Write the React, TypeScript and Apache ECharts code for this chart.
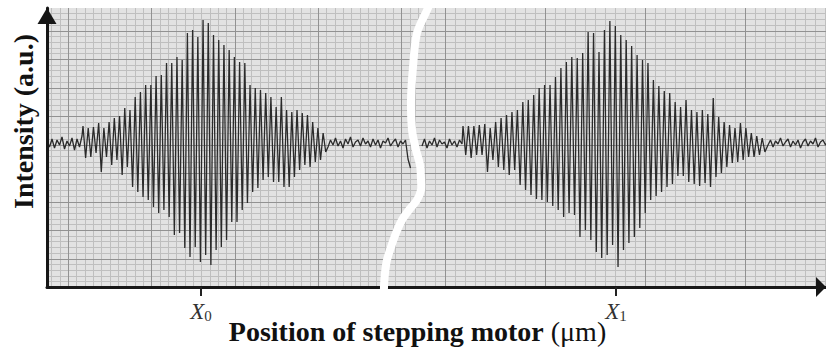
import React, { useEffect, useRef } from "react";
import * as echarts from "echarts";

// ---- Axis / tick data ----
const xMin = 0;
const xMax = 779;
const yMin = 0;
const yMax = 279;
const tickPositions = [154, 569];
const tickLabelBase = ["X", "X"];
const tickLabelSub = ["0", "1"];
const xAxisTitle = "Position of stepping motor";
const xAxisUnit = "(μm)";
const yAxisTitle = "Intensity (a.u.)";

// ---- Signal data (intensity, a.u.) ----
// left interferogram: noise before, fringe peaks / troughs, noise after
const leftPreNoise = [146, 140, 148, 139, 147, 142, 150, 138, 146, 141, 149, 137, 148, 140, 151];
const leftTop = [161, 159, 160, 164, 159, 165, 169, 171, 179, 177, 190, 195, 202, 202, 211, 212, 224, 224, 230, 227, 254, 257, 250, 267, 264, 252, 247, 242, 237, 230, 225, 224, 202, 199, 197, 194, 190, 180, 190, 177, 175, 177, 174, 172, 165, 159, 154];
const leftBottom = [129, 130, 134, 115, 130, 122, 127, 112, 120, 100, 95, 90, 87, 80, 74, 77, 70, 52, 54, 39, 30, 40, 25, 32, 22, 37, 40, 47, 65, 65, 77, 84, 95, 99, 107, 110, 105, 105, 100, 100, 110, 117, 122, 120, 125, 127, 135];
const leftPostNoise = [140, 147, 142, 149, 141, 146, 139, 148, 143, 150, 140, 145, 147, 141, 149, 143, 146, 140, 148, 142, 147, 139, 146, 144, 149, 141, 145, 148, 140, 146, 143, 147, 128, 119];
// right interferogram
const rightPreNoise = [141, 148, 139, 146, 142, 149, 140, 147, 143, 145, 139, 148, 142, 146, 140, 147, 143];
const rightTop = [161, 161, 161, 162, 163, 159, 165, 169, 172, 175, 177, 185, 187, 192, 199, 202, 202, 210, 219, 225, 230, 229, 234, 255, 254, 235, 257, 266, 261, 252, 247, 241, 232, 227, 224, 207, 201, 196, 194, 185, 180, 187, 177, 175, 177, 173, 189, 170, 165, 162, 159, 164, 159, 154, 151, 149];
const rightBottom = [132, 129, 132, 132, 115, 127, 120, 117, 112, 117, 102, 97, 92, 88, 87, 85, 81, 77, 70, 74, 72, 50, 57, 47, 35, 29, 32, 42, 20, 37, 44, 50, 59, 74, 87, 91, 95, 100, 103, 111, 111, 105, 103, 101, 104, 100, 110, 114, 120, 124, 125, 127, 130, 130, 132, 135];
const rightPostNoise = [142, 147, 140, 146, 143, 149, 141, 145, 148, 140, 146, 142, 147, 139, 145, 148, 141, 146, 143, 149, 140, 145, 147, 142, 146];

// stepping-motor sample positions
const noiseStep = 2.5;
const leftPreStart = 0;
const leftPacketStart = 36;
const leftFringeStep = 5.22;
const leftPostStart = 281;
const rightPreStart = 375;
const rightPacketStart = 416;
const rightFringeStep = 5.44;
const rightPostStart = 721;

// axis break (white S-curve), in axis units
const breakCurve = [
  [383, 285], [381, 279], [370, 254], [366, 220], [364, 187], [365, 157], [369, 137],
  [373, 122], [374, 107], [374, 97], [370, 87], [362, 77], [355, 67], [349, 54],
  [344, 40], [340, 27], [338, 14], [337, 0], [337, -6],
];

// graph-paper spacing (axis units)
const hMajor = 28.5;
const hMinorPerMajor = 5;
const leftVOrigin = 21;
const leftVMajor = 83.33;
const rightVOrigin = 398;
const rightVMajor = 100;
const vMinorPerMajor = 10;

const FONT = "'Liberation Serif', 'Times New Roman', serif";

function noise(start: number, vals: number[]) {
  return vals.map((v, i) => [start + i * noiseStep, v]);
}
function packet(start: number, step: number, tops: number[], bottoms: number[]) {
  const out: number[][] = [];
  tops.forEach((t, i) => {
    out.push([start + i * step, t]);
    out.push([start + i * step + step / 2, bottoms[i]]);
  });
  return out;
}

const leftData = [
  ...noise(leftPreStart, leftPreNoise),
  ...packet(leftPacketStart, leftFringeStep, leftTop, leftBottom),
  ...noise(leftPostStart, leftPostNoise),
];
const rightData = [
  ...noise(rightPreStart, rightPreNoise),
  ...packet(rightPacketStart, rightFringeStep, rightTop, rightBottom),
  ...noise(rightPostStart, rightPostNoise),
];

const BG = "#e2e2e2";
const MINOR = "#bfbfbf";
const MAJOR = "#929292";

function gridRender(params: any, api: any) {
  const cs = params.coordSys;
  const left = cs.x;
  const top = cs.y;
  const right = cs.x + cs.width;
  const bottom = cs.y + cs.height;
  const pts = breakCurve.map((p) => api.coord(p)) as number[][];
  const curveXAt = (y: number) => {
    for (let i = 0; i < pts.length - 1; i++) {
      const a = pts[i];
      const b = pts[i + 1];
      const lo = Math.min(a[1], b[1]);
      const hi = Math.max(a[1], b[1]);
      if (y >= lo && y <= hi) {
        const t = b[1] === a[1] ? 0 : (y - a[1]) / (b[1] - a[1]);
        return a[0] + t * (b[0] - a[0]);
      }
    }
    return pts[pts.length - 1][0];
  };
  const minors: any[] = [];
  const majors: any[] = [];
  const seg = (arr: any[], x1: number, y1: number, x2: number, y2: number, c: string) =>
    arr.push({ type: "line", shape: { x1, y1, x2, y2 }, style: { stroke: c, lineWidth: 1 } });

  // horizontal lines
  const hMinor = hMajor / hMinorPerMajor;
  for (let k = 1; k * hMinor < yMax - 1; k++) {
    const y = Math.round(api.coord([0, k * hMinor])[1]) + 0.5;
    const isMajor = k % hMinorPerMajor === 0;
    seg(isMajor ? majors : minors, left + 2, y, right, y, isMajor ? MAJOR : MINOR);
  }
  // vertical lines, clipped at the break curve
  const addV = (v: number, isMajor: boolean, side: "L" | "R") => {
    const x = Math.round(api.coord([v, 0])[0]) + 0.5;
    if (x <= left + 2 || x >= right) return;
    let s: number | null = null;
    for (let y = top; y <= bottom; y += 1) {
      const cx = curveXAt(y);
      const inside = side === "L" ? x < cx : x > cx;
      if (inside && s === null) s = y;
      if (s !== null && (!inside || y + 1 > bottom)) {
        seg(isMajor ? majors : minors, x, s, x, y, isMajor ? MAJOR : MINOR);
        s = null;
      }
    }
  };
  const lMinor = leftVMajor / vMinorPerMajor;
  for (let k = -3; leftVOrigin + k * lMinor < 385; k++) {
    addV(leftVOrigin + k * lMinor, ((k % vMinorPerMajor) + vMinorPerMajor) % vMinorPerMajor === 0, "L");
  }
  const rMinor = rightVMajor / vMinorPerMajor;
  for (let k = -5; rightVOrigin + k * rMinor < xMax; k++) {
    addV(rightVOrigin + k * rMinor, ((k % vMinorPerMajor) + vMinorPerMajor) % vMinorPerMajor === 0, "R");
  }
  return { type: "group", children: [...minors, ...majors] };
}

function breakRender(params: any, api: any) {
  const pts = breakCurve.map((p) => api.coord(p));
  return {
    type: "polyline",
    shape: { points: pts, smooth: 0.3 },
    style: { stroke: "#ffffff", lineWidth: 8, fill: "none", lineCap: "round" },
  };
}

export default function App() {
  const ref = useRef<HTMLDivElement>(null);
  useEffect(() => {
    if (!ref.current) return;
    const chart = echarts.init(ref.current, null, { renderer: "svg" });
    const option: any = {
      animation: false,
      backgroundColor: "#ffffff",
      grid: {
        left: 47,
        right: 0,
        top: 8,
        bottom: 60,
        show: true,
        backgroundColor: BG,
        borderWidth: 0,
        containLabel: false,
        outerBoundsMode: "none",
      },
      xAxis: {
        type: "value",
        min: xMin,
        max: xMax,
        z: 3,
        splitLine: { show: false },
        axisLine: {
          show: true,
          lineStyle: { color: "#161616", width: 3 },
          symbol: ["none", "triangle"],
          symbolSize: [20, 10],
          symbolOffset: [0, -5],
        },
        axisTick: {
          show: true,
          customValues: tickPositions,
          length: 9,
          lineStyle: { color: "#222", width: 2 },
        },
        axisLabel: {
          show: true,
          customValues: tickPositions,
          margin: 12,
          formatter: (v: number) => {
            const i = tickPositions.indexOf(v);
            if (i < 0) return "";
            return `{x|${tickLabelBase[i]}}{s|${tickLabelSub[i]}}`;
          },
          rich: {
            x: { fontFamily: FONT, fontStyle: "italic", fontSize: 23, color: "#333" },
            s: { fontFamily: FONT, fontSize: 15, color: "#333", padding: [9, 0, 0, 0] },
          },
        },
        name: `{b|${xAxisTitle}} {n|${xAxisUnit}}`,
        nameLocation: "middle",
        nameGap: 30,
        nameMoveOverlap: false,
        nameTextStyle: {
          fontFamily: FONT,
          fontSize: 28,
          color: "#111",
          padding: [0, 38, 0, 0],
          rich: {
            b: { fontFamily: FONT, fontSize: 28, fontWeight: "bold", color: "#111" },
            n: { fontFamily: FONT, fontSize: 28, color: "#111" },
          },
        },
      },
      yAxis: {
        type: "value",
        min: yMin,
        max: yMax,
        z: 3,
        splitLine: { show: false },
        axisTick: { show: false },
        axisLabel: { show: false },
        axisLine: {
          show: true,
          lineStyle: { color: "#161616", width: 3 },
          symbol: ["none", "triangle"],
          symbolSize: [19, 16],
          symbolOffset: [0, -8],
        },
        name: yAxisTitle,
        nameLocation: "middle",
        nameGap: 10,
        nameMoveOverlap: false,
        nameTextStyle: {
          fontFamily: FONT,
          fontSize: 28,
          fontWeight: "bold",
          color: "#111",
          padding: [0, 0, 0, 52],
        },
      },
      series: [
        {
          type: "custom",
          z: 1,
          silent: true,
          clip: false,
          renderItem: gridRender,
          data: [[0, 0]],
        },
        {
          type: "line",
          z: 2,
          data: leftData,
          symbol: "none",
          lineStyle: { color: "#2a2a2a", width: 1.3 },
          silent: true,
        },
        {
          type: "line",
          z: 2,
          data: rightData,
          symbol: "none",
          lineStyle: { color: "#2a2a2a", width: 1.3 },
          silent: true,
        },
        {
          type: "custom",
          z: 5,
          silent: true,
          clip: false,
          renderItem: breakRender,
          data: [[0, 0]],
        },
      ],
    };
    chart.setOption(option);
    return () => chart.dispose();
  }, []);
  return (
    <div
      ref={ref}
      style={{ position: "fixed", left: 0, top: 0, width: 826, height: 347, background: "#fff" }}
    />
  );
}
